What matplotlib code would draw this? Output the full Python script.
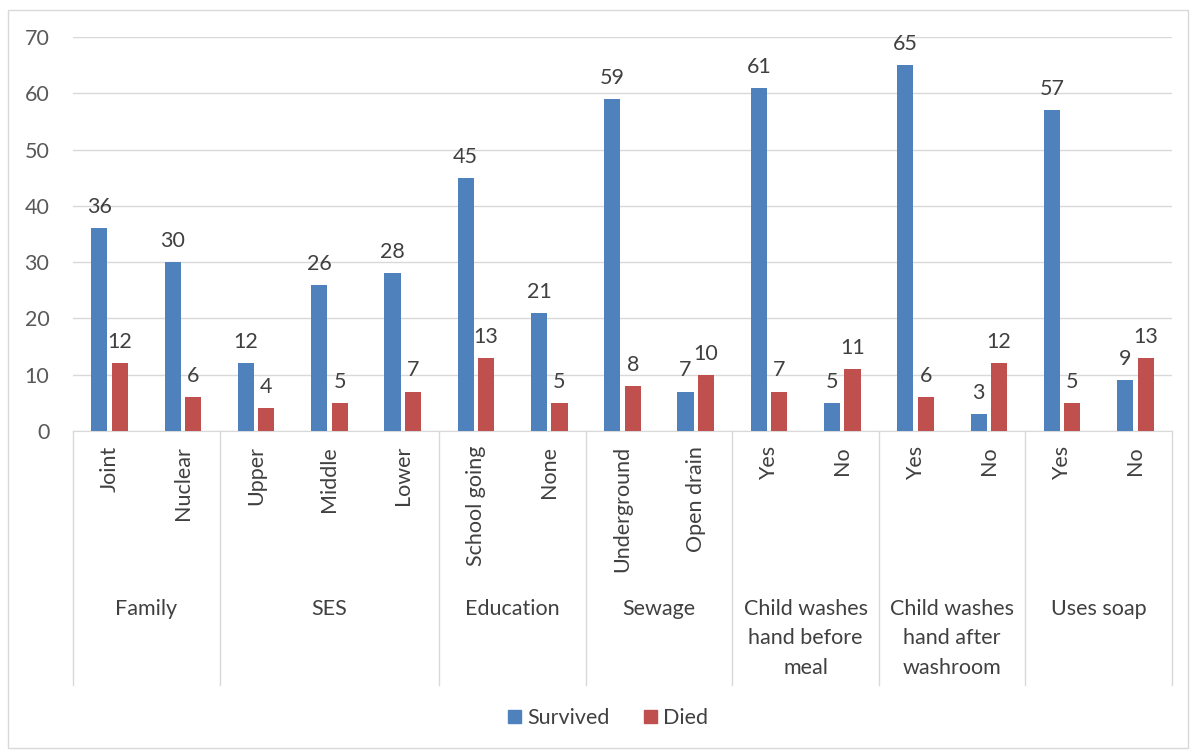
import matplotlib
matplotlib.use("Agg")
import matplotlib.pyplot as plt
from matplotlib.patches import Rectangle, Patch
from matplotlib.transforms import blended_transform_factory
import numpy as np

plt.rcParams['font.family'] = ['Lato', 'DejaVu Sans']

groups = ["Family", "SES", "Education", "Sewage",
          "Child washes\nhand before\nmeal", "Child washes\nhand after\nwashroom", "Uses soap"]
group_sizes = [2, 3, 2, 2, 2, 2, 2]
subcats = ["Joint", "Nuclear", "Upper", "Middle", "Lower", "School going", "None",
           "Underground", "Open drain", "Yes", "No", "Yes", "No", "Yes", "No"]
survived = [36, 30, 12, 26, 28, 45, 21, 59, 7, 61, 5, 65, 3, 57, 9]
died = [12, 6, 4, 5, 7, 13, 5, 8, 10, 7, 11, 6, 12, 5, 13]
yticks = [0, 10, 20, 30, 40, 50, 60, 70]

W, H = 1193, 751
fig = plt.figure(figsize=(W / 100, H / 100), dpi=100)
fig.patches.append(Rectangle((8 / W, 1 - 748 / H), (1188 - 8) / W, (748 - 10) / H,
                             transform=fig.transFigure, fill=False, edgecolor='#d9d9d9', lw=1))

FS = 15.5
x0, x1, ytop, ybot = 73, 1172, 37, 431
ax = fig.add_axes([x0 / W, 1 - ybot / H, (x1 - x0) / W, (ybot - ytop) / H])
n = len(subcats)
x = np.arange(n)
bw = 0.22
gap = 0.06
blue, red = '#4F81BD', '#C0504D'
b1 = ax.bar(x - (bw + gap) / 2, survived, bw, color=blue, zorder=3)
b2 = ax.bar(x + (bw + gap) / 2, died, bw, color=red, zorder=3)
txtc = '#404040'
for bars, vals in ((b1, survived), (b2, died)):
    for r, v in zip(bars, vals):
        ax.annotate(str(v), (r.get_x() + r.get_width() / 2, v), xytext=(0, 8),
                    textcoords='offset points', ha='center', va='bottom',
                    fontsize=FS, color=txtc)

ax.set_xlim(-0.5, n - 0.5)
ax.set_ylim(0, 70)
ax.set_yticks(yticks)
ax.set_yticklabels([str(t) for t in yticks], fontsize=FS, color='#595959')
ax.tick_params(axis='y', length=0, pad=17)
ax.set_xticks([])
ax.grid(axis='y', color='#d9d9d9', lw=1, zorder=0)
for s in ['top', 'right', 'left']:
    ax.spines[s].set_visible(False)
ax.spines['bottom'].set_color('#d9d9d9')

trans = blended_transform_factory(ax.transData, ax.transAxes)
sep_bottom = (ybot - 685) / (ybot - ytop)
bounds = [-0.5]
for g in group_sizes:
    bounds.append(bounds[-1] + g)
for b in bounds:
    ax.plot([b, b], [0, sep_bottom], transform=trans, color='#d9d9d9', lw=1, clip_on=False)

sub_y = (ybot - 446) / (ybot - ytop)
for i, s in enumerate(subcats):
    ax.text(i, sub_y, s, transform=trans, rotation=90, ha='center', va='top',
            fontsize=FS, color=txtc)

grp_y = (ybot - 599) / (ybot - ytop)
for gi, g in enumerate(groups):
    c = (bounds[gi] + bounds[gi + 1]) / 2
    ax.text(c, grp_y, g, transform=trans, ha='center', va='top', fontsize=FS,
            color=txtc, linespacing=1.58)

handles = [Patch(color=blue, label='Survived'), Patch(color=red, label='Died')]
fig.legend(handles=handles, loc='center', bbox_to_anchor=(608 / W, 1 - 718 / H), ncol=2,
           frameon=False, fontsize=FS, handlelength=0.6, handleheight=0.6,
           handletextpad=0.3, columnspacing=1.6, labelcolor=txtc)

fig.savefig('out.png', dpi=100)
